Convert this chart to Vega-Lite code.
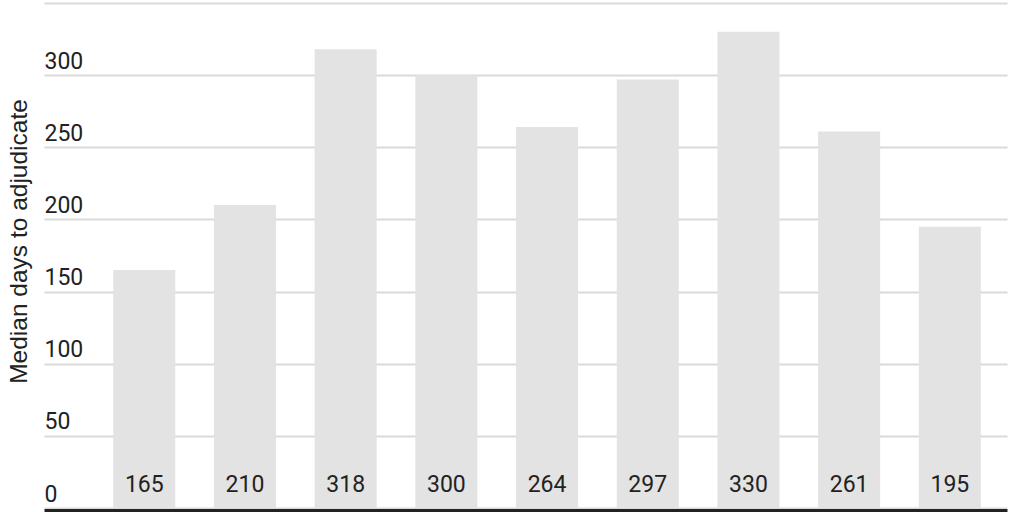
{
  "$schema": "https://vega.github.io/schema/vega-lite/v6.json",
  "width": 963,
  "height": 505,
  "autosize": "none",
  "padding": {"left": 44, "top": 3, "right": 17, "bottom": 4},
  "background": "white",
  "config": {"view": {"stroke": null}},
  "data": {
    "values": [
      {"group": "1", "days": 165},
      {"group": "2", "days": 210},
      {"group": "3", "days": 318},
      {"group": "4", "days": 300},
      {"group": "5", "days": 264},
      {"group": "6", "days": 297},
      {"group": "7", "days": 330},
      {"group": "8", "days": 261},
      {"group": "9", "days": 195}
    ]
  },
  "encoding": {
    "x": {
      "field": "group",
      "type": "nominal",
      "sort": null,
      "scale": {"paddingInner": 0.384, "paddingOuter": 0.4737, "align": 0.726},
      "axis": {
        "title": null,
        "labels": false,
        "ticks": false,
        "domain": true,
        "domainColor": "#222222",
        "domainWidth": 3,
        "offset": 2
      }
    },
    "y": {
      "field": "days",
      "type": "quantitative",
      "scale": {"domain": [0, 350], "nice": false},
      "axis": {
        "title": "Median days to adjudicate",
        "titleFont": "Liberation Sans",
        "titleFontSize": 24.5,
        "titleFontWeight": "normal",
        "titleColor": "#222222",
        "titleAngle": -90,
        "titleBaseline": "alphabetic",
        "titleAlign": "center",
        "titleX": -17.5,
        "titleY": 238,
        "values": [0, 50, 100, 150, 200, 250, 300, 350],
        "labelExpr": "datum.value == 350 ? '' : datum.label",
        "labelAlign": "left",
        "labelBaseline": "alphabetic",
        "labelPadding": 0,
        "labelOffset": -7,
        "labelFont": "Roboto",
        "labelFontSize": 23,
        "labelColor": "#222222",
        "ticks": false,
        "domain": false,
        "grid": true,
        "gridColor": "#dadada",
        "gridWidth": 2
      }
    }
  },
  "layer": [
    {
      "mark": {"type": "bar", "color": "#e3e3e3"}
    },
    {
      "mark": {
        "type": "text",
        "baseline": "alphabetic",
        "align": "center",
        "dy": -16,
        "font": "Roboto",
        "fontSize": 23,
        "color": "#222222"
      },
      "encoding": {
        "y": {"datum": 0, "type": "quantitative"},
        "text": {"field": "days", "type": "quantitative"}
      }
    }
  ]
}
